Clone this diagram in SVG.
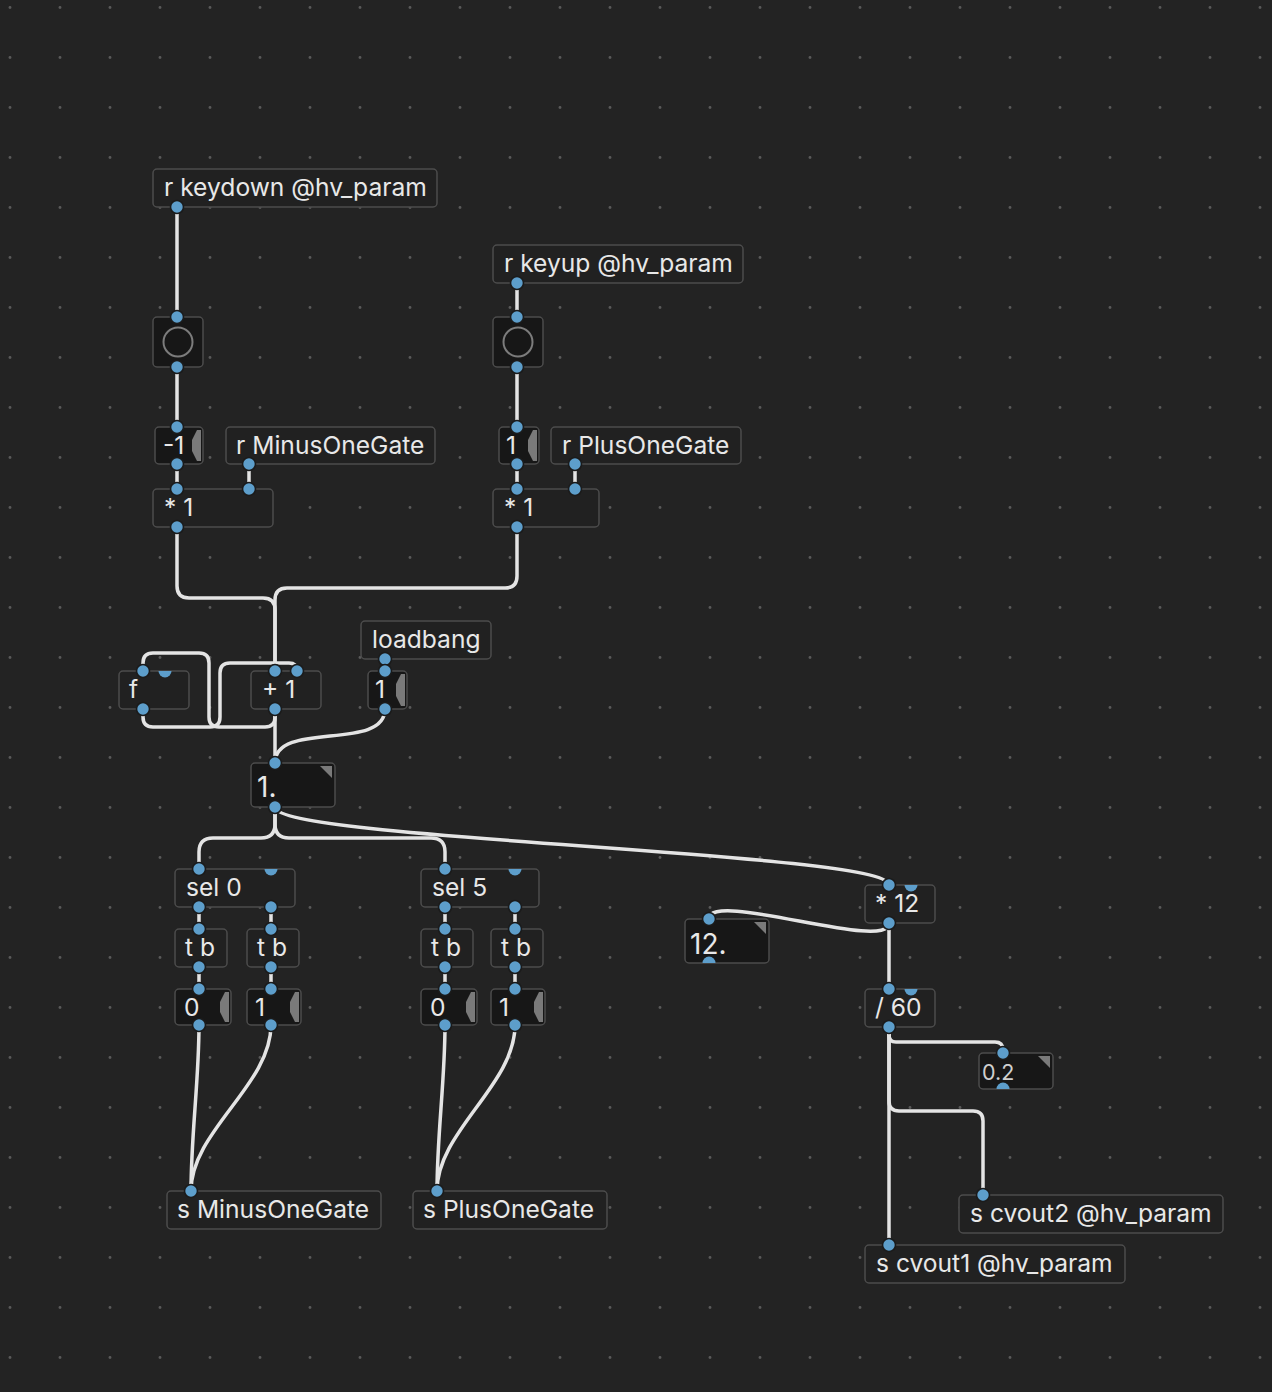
<svg xmlns="http://www.w3.org/2000/svg" width="1272" height="1392" viewBox="0 0 1272 1392">
<defs>
<pattern id="grid" x="0" y="0" width="50" height="50" patternUnits="userSpaceOnUse"><circle cx="10" cy="7.5" r="1.4" fill="#5a5a5a"/></pattern>
</defs>
<style>
.obj{fill:#212121;stroke:#4c4c4c;stroke-width:1.5}
.atom{fill:#171717;stroke:#4c4c4c;stroke-width:1.5}
.t{font-family:Inter,"Noto Sans",sans-serif;font-size:24.6px;fill:#e8e8e8}
.big{font-size:28px}
.small{font-size:21.5px;fill:#cfcfcf}
.flag{fill:#7a7a7a}
.c{fill:none;stroke:#e4e4e4;stroke-width:3.5;stroke-linecap:round}
.p{fill:#5d9ecb;stroke:#1b1b1b;stroke-width:1.6}
.h{fill:#5d9ecb}
.bng{fill:none;stroke:#7c7c7c;stroke-width:2}
</style>
<rect width="1272" height="1392" fill="#232323"/>
<rect width="1272" height="1392" fill="url(#grid)"/>

<g id="connections">
<path class="c" d="M177,207 V317"/>
<path class="c" d="M177,367 V427"/>
<path class="c" d="M177,464 V489"/>
<path class="c" d="M249,464 V489"/>
<path class="c" d="M517,283 V317"/>
<path class="c" d="M517,367 V427"/>
<path class="c" d="M517,464 V489"/>
<path class="c" d="M575,464 V489"/>
<path class="c" d="M177,527 V586 Q177,598 189,598 H263 Q275,598 275,610 V671"/>
<path class="c" d="M517,527 V576 Q517,588 505,588 H287 Q275,588 275,600 V671"/>
<path class="c" d="M143,709 V717 Q143,727 153,727 H210 Q220,727 220,717 V673 Q220,663 230,663 H289 Q297,663 297,671"/>
<path class="c" d="M275,709 V717 Q275,727 265,727 H219 Q209,727 209,717 V663 Q209,653 199,653 H153 Q143,653 143,663 V671"/>
<path class="c" d="M275,709 V763"/>
<path class="c" d="M385,659 V671"/>
<path class="c" d="M385,709 C385,752 275,720 275,763"/>
<path class="c" d="M275,807 V824 Q275,838 261,838 H213 Q199,838 199,852 V869"/>
<path class="c" d="M275,807 V824 Q275,838 289,838 H431 Q445,838 445,852 V869"/>
<path class="c" d="M275,807 C275,840 889,852 889,885"/>
<path class="c" d="M199,907 V929"/>
<path class="c" d="M271,907 V929"/>
<path class="c" d="M445,907 V929"/>
<path class="c" d="M515,907 V929"/>
<path class="c" d="M199,967 V989"/>
<path class="c" d="M271,967 V989"/>
<path class="c" d="M445,967 V989"/>
<path class="c" d="M515,967 V989"/>
<path class="c" d="M199,1025 C199,1080 191,1136 191,1191"/>
<path class="c" d="M271,1025 C271,1085 191,1131 191,1191"/>
<path class="c" d="M445,1025 C445,1080 437,1136 437,1191"/>
<path class="c" d="M515,1025 C515,1085 437,1131 437,1191"/>
<path class="c" d="M889,923 C889,953 709,889 709,919"/>
<path class="c" d="M889,923 V989"/>
<path class="c" d="M889,1027 V1035 Q889,1042 896,1042 H995 Q1003,1042 1003,1050 V1053"/>
<path class="c" d="M889,1027 V1101 Q889,1111 899,1111 H973 Q983,1111 983,1121 V1195"/>
<path class="c" d="M889,1027 V1245"/>
</g>

<g id="r_keydown"><rect class="obj" x="153" y="169" width="284" height="38" rx="4"/><text class="t" x="164" y="196">r keydown @hv_param</text><circle class="p" cx="177" cy="207" r="6.5"/></g>
<g id="bang1"><rect class="atom" x="153" y="317" width="50" height="50" rx="4"/><circle class="bng" cx="178" cy="342" r="14.5"/><circle class="p" cx="177" cy="317" r="6.5"/><circle class="p" cx="177" cy="367" r="6.5"/></g>
<g id="r_keyup"><rect class="obj" x="493" y="245" width="250" height="38" rx="4"/><text class="t" x="504" y="272">r keyup @hv_param</text><circle class="p" cx="517" cy="283" r="6.5"/></g>
<g id="bang2"><rect class="atom" x="493" y="317" width="50" height="50" rx="4"/><circle class="bng" cx="518" cy="342" r="14.5"/><circle class="p" cx="517" cy="317" r="6.5"/><circle class="p" cx="517" cy="367" r="6.5"/></g>

<g id="msg_m1"><rect class="atom" x="155" y="427" width="48" height="37" rx="4"/><polygon class="flag" points="201,430 197,430 192,440 192,451 197,461 201,461"/><text class="t" x="163" y="454">-1</text><circle class="p" cx="177" cy="427" r="6.5"/><circle class="p" cx="177" cy="464" r="6.5"/></g>
<g id="r_minusonegate"><rect class="obj" x="226" y="427" width="209" height="37" rx="4"/><text class="t" x="236" y="454">r MinusOneGate</text><circle class="p" cx="249" cy="464" r="6.5"/></g>
<g id="mul1_left"><rect class="obj" x="153" y="489" width="120" height="38" rx="4"/><text class="t" x="164" y="516">* 1</text><circle class="p" cx="177" cy="489" r="6.5"/><circle class="p" cx="249" cy="489" r="6.5"/><circle class="p" cx="177" cy="527" r="6.5"/></g>

<g id="msg_p1"><rect class="atom" x="499" y="427" width="40" height="37" rx="4"/><polygon class="flag" points="537,430 533,430 528,440 528,451 533,461 537,461"/><text class="t" x="506" y="454">1</text><circle class="p" cx="517" cy="427" r="6.5"/><circle class="p" cx="517" cy="464" r="6.5"/></g>
<g id="r_plusonegate"><rect class="obj" x="551" y="427" width="190" height="37" rx="4"/><text class="t" x="562" y="454">r PlusOneGate</text><circle class="p" cx="575" cy="464" r="6.5"/></g>
<g id="mul1_right"><rect class="obj" x="493" y="489" width="106" height="38" rx="4"/><text class="t" x="504" y="516">* 1</text><circle class="p" cx="517" cy="489" r="6.5"/><circle class="p" cx="575" cy="489" r="6.5"/><circle class="p" cx="517" cy="527" r="6.5"/></g>

<g id="loadbang"><rect class="obj" x="361" y="621" width="130" height="38" rx="4"/><text class="t" x="372" y="648">loadbang</text><circle class="p" cx="385" cy="659" r="6.5"/></g>
<g id="f"><rect class="obj" x="119" y="671" width="70" height="38" rx="4"/><text class="t" x="129" y="698">f</text><circle class="p" cx="143" cy="671" r="6.5"/><path class="h" d="M158.5,671 A6.5,6.5 0 0 0 171.5,671 Z"/><circle class="p" cx="143" cy="709" r="6.5"/></g>
<g id="add1"><rect class="obj" x="251" y="671" width="70" height="38" rx="4"/><text class="t" x="262" y="698">+ 1</text><circle class="p" cx="275" cy="671" r="6.5"/><circle class="p" cx="297" cy="671" r="6.5"/><circle class="p" cx="275" cy="709" r="6.5"/></g>
<g id="msg_lb1"><rect class="atom" x="368" y="671" width="39" height="38" rx="4"/><polygon class="flag" points="405,674 401,674 396,684 396,696 401,706 405,706"/><text class="t" x="375" y="698">1</text><circle class="p" cx="385" cy="671" r="6.5"/><circle class="p" cx="385" cy="709" r="6.5"/></g>

<g id="num_main"><rect class="atom" x="251" y="763" width="84" height="44" rx="4"/><polygon class="flag" points="320,766 332,766 332,778"/><text class="t big" x="257" y="797">1.</text><circle class="p" cx="275" cy="763" r="6.5"/><circle class="p" cx="275" cy="807" r="6.5"/></g>

<g id="sel0"><rect class="obj" x="175" y="869" width="120" height="38" rx="4"/><text class="t" x="186" y="896">sel 0</text><circle class="p" cx="199" cy="869" r="6.5"/><path class="h" d="M264.5,869 A6.5,6.5 0 0 0 277.5,869 Z"/><circle class="p" cx="199" cy="907" r="6.5"/><circle class="p" cx="271" cy="907" r="6.5"/></g>
<g id="sel5"><rect class="obj" x="421" y="869" width="118" height="38" rx="4"/><text class="t" x="432" y="896">sel 5</text><circle class="p" cx="445" cy="869" r="6.5"/><path class="h" d="M508.5,869 A6.5,6.5 0 0 0 521.5,869 Z"/><circle class="p" cx="445" cy="907" r="6.5"/><circle class="p" cx="515" cy="907" r="6.5"/></g>

<g id="tb1"><rect class="obj" x="175" y="929" width="52" height="38" rx="4"/><text class="t" x="185" y="956">t b</text><circle class="p" cx="199" cy="929" r="6.5"/><circle class="p" cx="199" cy="967" r="6.5"/></g>
<g id="tb2"><rect class="obj" x="247" y="929" width="52" height="38" rx="4"/><text class="t" x="257" y="956">t b</text><circle class="p" cx="271" cy="929" r="6.5"/><circle class="p" cx="271" cy="967" r="6.5"/></g>
<g id="tb3"><rect class="obj" x="421" y="929" width="52" height="38" rx="4"/><text class="t" x="431" y="956">t b</text><circle class="p" cx="445" cy="929" r="6.5"/><circle class="p" cx="445" cy="967" r="6.5"/></g>
<g id="tb4"><rect class="obj" x="491" y="929" width="52" height="38" rx="4"/><text class="t" x="501" y="956">t b</text><circle class="p" cx="515" cy="929" r="6.5"/><circle class="p" cx="515" cy="967" r="6.5"/></g>

<g id="msg0a"><rect class="atom" x="175" y="989" width="56" height="36" rx="4"/><polygon class="flag" points="229,992 225,992 220,1002 220,1012 225,1022 229,1022"/><text class="t" x="184" y="1016">0</text><circle class="p" cx="199" cy="989" r="6.5"/><circle class="p" cx="199" cy="1025" r="6.5"/></g>
<g id="msg1a"><rect class="atom" x="247" y="989" width="54" height="36" rx="4"/><polygon class="flag" points="299,992 295,992 290,1002 290,1012 295,1022 299,1022"/><text class="t" x="255" y="1016">1</text><circle class="p" cx="271" cy="989" r="6.5"/><circle class="p" cx="271" cy="1025" r="6.5"/></g>
<g id="msg0b"><rect class="atom" x="421" y="989" width="56" height="36" rx="4"/><polygon class="flag" points="475,992 471,992 466,1002 466,1012 471,1022 475,1022"/><text class="t" x="430" y="1016">0</text><circle class="p" cx="445" cy="989" r="6.5"/><circle class="p" cx="445" cy="1025" r="6.5"/></g>
<g id="msg1b"><rect class="atom" x="491" y="989" width="54" height="36" rx="4"/><polygon class="flag" points="543,992 539,992 534,1002 534,1012 539,1022 543,1022"/><text class="t" x="499" y="1016">1</text><circle class="p" cx="515" cy="989" r="6.5"/><circle class="p" cx="515" cy="1025" r="6.5"/></g>

<g id="s_minusonegate"><rect class="obj" x="167" y="1191" width="214" height="38" rx="4"/><text class="t" x="177" y="1218">s MinusOneGate</text><circle class="p" cx="191" cy="1191" r="6.5"/></g>
<g id="s_plusonegate"><rect class="obj" x="413" y="1191" width="194" height="38" rx="4"/><text class="t" x="423" y="1218">s PlusOneGate</text><circle class="p" cx="437" cy="1191" r="6.5"/></g>

<g id="mul12"><rect class="obj" x="865" y="885" width="70" height="38" rx="4"/><text class="t" x="875" y="912">* 12</text><circle class="p" cx="889" cy="885" r="6.5"/><path class="h" d="M904.5,885 A6.5,6.5 0 0 0 917.5,885 Z"/><circle class="p" cx="889" cy="923" r="6.5"/></g>
<g id="num12"><rect class="atom" x="685" y="919" width="84" height="44" rx="4"/><polygon class="flag" points="754,922 766,922 766,934"/><text class="t big" x="690" y="954">12.</text><circle class="p" cx="709" cy="919" r="6.5"/><path class="h" d="M702.5,963 A6.5,6.5 0 0 1 715.5,963 Z"/></g>
<g id="div60"><rect class="obj" x="865" y="989" width="70" height="38" rx="4"/><text class="t" x="875" y="1016">/ 60</text><circle class="p" cx="889" cy="989" r="6.5"/><path class="h" d="M904.5,989 A6.5,6.5 0 0 0 917.5,989 Z"/><circle class="p" cx="889" cy="1027" r="6.5"/></g>
<g id="num02"><rect class="atom" x="979" y="1053" width="74" height="36" rx="4"/><polygon class="flag" points="1038,1056 1050,1056 1050,1068"/><text class="t small" x="982" y="1080">0.2</text><circle class="p" cx="1003" cy="1053" r="6.5"/><path class="h" d="M996.5,1089 A6.5,6.5 0 0 1 1009.5,1089 Z"/></g>
<g id="s_cvout2"><rect class="obj" x="959" y="1195" width="264" height="38" rx="4"/><text class="t" x="970" y="1222">s cvout2 @hv_param</text><circle class="p" cx="983" cy="1195" r="6.5"/></g>
<g id="s_cvout1"><rect class="obj" x="865" y="1245" width="260" height="38" rx="4"/><text class="t" x="876" y="1272">s cvout1 @hv_param</text><circle class="p" cx="889" cy="1245" r="6.5"/></g>
</svg>
